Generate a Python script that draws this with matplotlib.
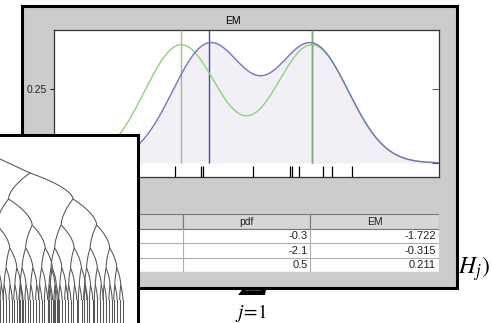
import numpy as np
import matplotlib
matplotlib.use("Agg")
import matplotlib.pyplot as plt
from matplotlib.patches import Rectangle

W, H = 492, 323

# ---------------- data ----------------
title = "EM"
x_range = [-2.6, 2.674]
y_range = [-0.0473, 0.4493]
y_ticks = [0.0, 0.25]
y_tick_labels = ["", "0.25"]
rug_x = [-0.942, -0.586, -0.559, 0.126, 0.633, 0.660, 0.756, 1.085, 1.208, 1.482]

pdf_means = [-0.86, 0.934]      # green reference density
pdf_sd = [0.5, 0.5]
pdf_w = [0.5, 0.5]
em_means = [-0.477, 0.934]      # blue EM estimate (filled)
em_sd = [0.5, 0.5]
em_w = [0.5, 0.5]

table_header = ["", "pdf", "EM"]
table_pdf = ["-0.3", "-2.1", "0.5"]
table_em = ["-1.722", "-0.315", "0.211"]

# tree decoration parameters
tree_root = (30.0, 173.0)
tree_step = 43.0
tree_dy = [26, 26, 23, 20, 17, 15]

# ---------------- styles ----------------
FONT = "Liberation Sans"
C_BLUE = "#7474c4"
C_BLUE_V = "#3f4ea0"
C_GREEN = "#8fd27a"
C_GREEN_V = "#7cc46c"
C_FILL = "#f3eff7"
C_WIN = "#cccccc"


def rect(x0, y0, x1, y1):
    return [x0 / W, 1 - y1 / H, (x1 - x0) / W, (y1 - y0) / H]


def mixture(x, means, sds, ws):
    out = np.zeros_like(x)
    for m, s, w in zip(means, sds, ws):
        out += w * np.exp(-0.5 * ((x - m) / s) ** 2) / (s * np.sqrt(2 * np.pi))
    return out


fig = plt.figure(figsize=(W / 100, H / 100), dpi=100)
fig.patch.set_facecolor("white")

# formula fragments behind the window
fig.text(251 / W, 1 - 318 / H, r"$j\!=\!1$", ha="center", va="baseline",
         fontsize=14, math_fontfamily="stix", zorder=-1)
fig.text(251 / W, 1 - 286 / H, r"$\sum$", ha="center", va="baseline",
         fontsize=26, math_fontfamily="stix", zorder=-1)
fig.text(490 / W, 1 - 274 / H, r"$(H_j)$", ha="right", va="baseline",
         fontsize=17, math_fontfamily="stix", zorder=-1)

# ---- window ----
win = fig.add_axes(rect(22, 6, 457, 288), zorder=1)
win.set_facecolor(C_WIN)
win.set_xticks([]); win.set_yticks([])
for sp in win.spines.values():
    sp.set_color("black"); sp.set_linewidth(2.2)

# ---- density plot ----
ax = fig.add_axes(rect(54, 30, 439, 177), zorder=2)
ax.set_xlim(x_range); ax.set_ylim(y_range)
xs = np.linspace(x_range[0], x_range[1], 600)
y_em = mixture(xs, em_means, em_sd, em_w)
y_pdf = mixture(xs, pdf_means, pdf_sd, pdf_w)
ax.fill_between(xs, 0, y_em, color=C_FILL, lw=0, zorder=1)
ax.vlines(em_means, 0, y_range[1], color=C_BLUE_V, lw=1.0, zorder=2)
ax.vlines(pdf_means, 0, y_range[1], color=C_GREEN_V, lw=1.0, alpha=0.85, zorder=3)
ax.plot(xs, y_pdf, color=C_GREEN, lw=1.0, zorder=4)
ax.plot(xs, y_em, color=C_BLUE, lw=1.0, zorder=5)
ax.vlines(rug_x, y_range[0], -0.0105, color="black", lw=0.9, zorder=6)
ax.set_xticks([])
ax.set_yticks(y_ticks)
ax.set_yticklabels(y_tick_labels, fontfamily=FONT, fontsize=7.5)
ax.tick_params(axis="y", direction="out", length=3, width=0.8, pad=2, colors="#222222")
for sp in ax.spines.values():
    sp.set_color("#333333"); sp.set_linewidth(0.9)
ax.set_title(title, fontfamily=FONT, fontsize=7.5, pad=4, x=0.465)
ax2 = ax.twinx()
ax2.set_ylim(y_range)
ax2.set_yticks(y_ticks)
ax2.set_yticklabels([])
ax2.tick_params(axis="y", direction="in", length=5, width=0.8, colors="#555555")
for sp in ax2.spines.values():
    sp.set_visible(False)

# ---- table ----
tb = fig.add_axes(rect(54, 214, 439, 272), zorder=2)
tb.set_xlim(54, 439); tb.set_ylim(272, 214)
tb.axis("off")
col_edges = [54, 183, 310, 439]
row_edges = [214.3, 228.5, 243.2, 257.6, 271.7]
for i in range(3):
    tb.add_patch(Rectangle((col_edges[i], row_edges[0]), col_edges[i + 1] - col_edges[i],
                           row_edges[1] - row_edges[0], facecolor="#d6d6d6",
                           edgecolor="#777777", lw=0.8))
    tb.text((col_edges[i] + col_edges[i + 1]) / 2, (row_edges[0] + row_edges[1]) / 2 + 0.5,
            table_header[i], ha="center", va="center", fontfamily=FONT, fontsize=7.5,
            color="#222222")
tb.add_patch(Rectangle((col_edges[0], row_edges[1]), col_edges[-1] - col_edges[0],
                       row_edges[-1] - row_edges[1], facecolor="white",
                       edgecolor="#777777", lw=0.8))
for r in range(1, 4):
    tb.plot([col_edges[0], col_edges[-1]], [row_edges[r + 1]] * 2, color="#b0b0b0", lw=0.8)
for c in (1, 2):
    tb.plot([col_edges[c]] * 2, [row_edges[1], row_edges[-1]], color="#b0b0b0", lw=0.8)
for r in range(3):
    yc = (row_edges[r + 1] + row_edges[r + 2]) / 2 + 0.5
    tb.text(col_edges[2] - 2, yc, table_pdf[r], ha="right", va="center",
            fontfamily=FONT, fontsize=8, color="#222222")
    tb.text(col_edges[3] - 3, yc, table_em[r], ha="right", va="center",
            fontfamily=FONT, fontsize=8, color="#222222")

# ---- overlapping tree picture ----
tr = fig.add_axes(rect(-4, 135, 138, 327), zorder=3)
tr.set_xlim(-4, 138); tr.set_ylim(327, 135)
tr.set_facecolor("white")
tr.set_xticks([]); tr.set_yticks([])
for sp in tr.spines.values():
    sp.set_color("black"); sp.set_linewidth(2.2)

t = np.linspace(0, 1, 20)


def edge(p, c):
    xx = p[0] + (c[0] - p[0]) * (1 - (1 - t) ** 1.7)
    yy = p[1] + (c[1] - p[1]) * t
    tr.plot(xx, yy, color="#555555", lw=0.75, solid_capstyle="butt")


def grow(x, y, s, level):
    if level == len(tree_dy):
        tr.plot([x, x], [y, 330], color="#555555", lw=0.75)
        return
    dy = tree_dy[level]
    for cx in (x - 0.5 * s, x + s):
        edge((x, y), (cx, y + dy))
        grow(cx, y + dy, s * 0.55, level + 1)


tr.plot([-30, tree_root[0]], [145, tree_root[1]], color="#555555", lw=0.75)
grow(tree_root[0], tree_root[1], tree_step, 0)

fig.savefig("out.png", dpi=100)
